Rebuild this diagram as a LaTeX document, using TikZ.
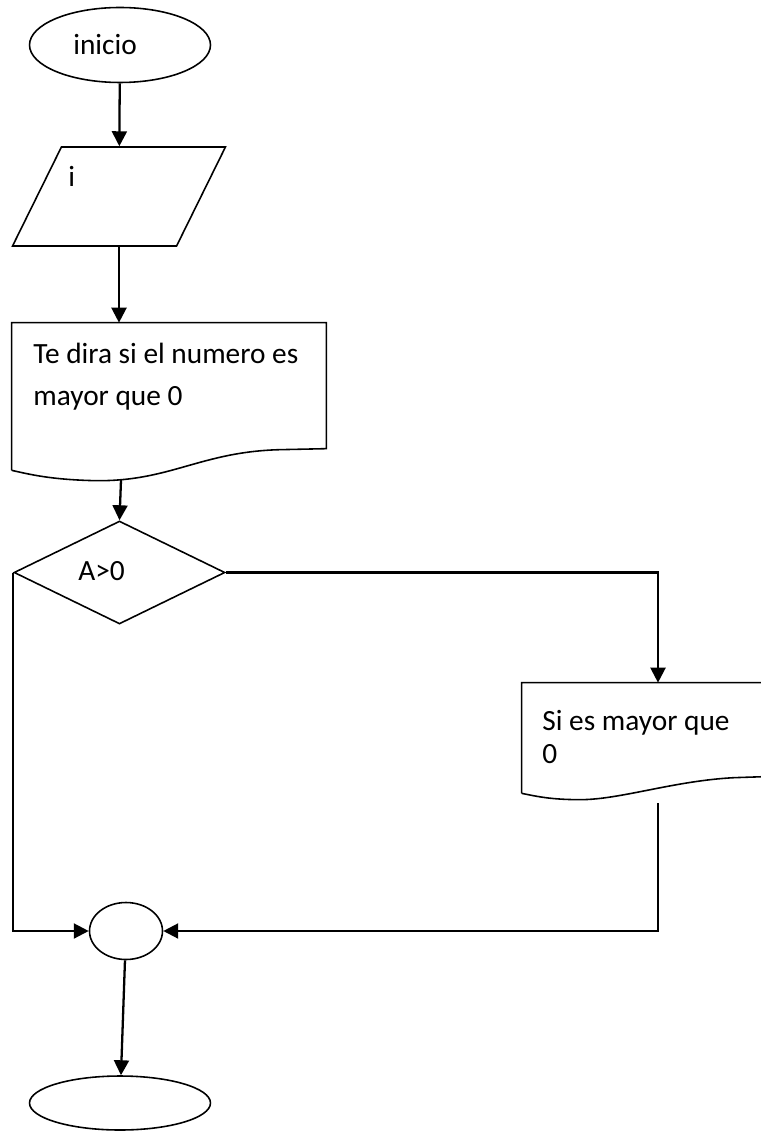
\documentclass[tikz,border=0pt]{standalone}
\usepackage{fontspec}
\setmainfont{Carlito}
\usetikzlibrary{shapes, arrows.meta, positioning}

\begin{document}
\begin{tikzpicture}[x=0.02cm, y=-0.02cm,
		forma/.style={draw, line width=0.9pt, inner sep=0pt},
		terminal/.style={forma, ellipse, minimum width=3.62cm, minimum height=1.5cm},
		entradadatos/.style={forma, inner sep=3pt, trapezium, trapezium left angle=67, trapezium right angle=113, trapezium stretches, minimum width=4.26cm, minimum height=1.98cm},
		decision/.style={forma, diamond, minimum width=4.22cm, minimum height=2.06cm},
		documento/.style={rectangle, inner sep=0pt},
		texto/.style={anchor=base west, inner sep=0pt, align=left, font=\fontsize{16.7}{23.8}\selectfont},
		flecha/.style={line width=1.3pt, -{Triangle[length=8.5pt, width=8.5pt]}}]
	\useasboundingbox (0,0) rectangle (760,1131);

	% figuras
	\node (inicio) [terminal] at (120,45) {};
	\node (entrada) [entradadatos] at (119,196.5) {};
	\node (doc1) [documento, minimum width=6.28cm, minimum height=2.94cm] at (169,396.5) {};
	\node (condicion) [decision] at (119.5,572.5) {};
	\node (doc2) [documento, minimum width=5.44cm, minimum height=2.2cm] at (658,738) {};
	\node (union) [forma, ellipse, minimum width=1.46cm, minimum height=1.14cm] at (126,931) {};
	\node (fin) [terminal, minimum height=1.08cm] at (120,1103) {};

	\draw[forma] (doc1.south west) -- (doc1.north west) -- (doc1.north east) -- ++(0,126) -- ++(-46,1)
		.. controls +(-80,2) and +(75,1) .. ++(-185,31)
		.. controls +(-45,-1) and +(18,4) .. (doc1.south west);
	\draw[forma] (doc2.south west) -- (doc2.north west) -- (doc2.north east) -- ++(0,93) -- ++(-60,2)
		.. controls +(-60,3) and +(40,0) .. ++(-154,22)
		.. controls +(-30,0) and +(15,3) .. (doc2.south west);

	% textos
	\node (tinicio) [texto] at (73,55) {inicio};
	\node (ti) [texto] at (68,187) {i};
	\node (tdoc1) [texto] at (33,405) {Te dira si el numero es\\mayor que 0};
	\node (tcond) [texto] at (78,580) {A>0};
	\node (tdoc2) [texto, font=\fontsize{16.7}{18.7}\selectfont] at (542,763) {Si es mayor que\\0};

	% conectores
	\coordinate (doc1bajo) at (121,480);
	\coordinate (doc2bajo) at (658,803);
	\path[flecha] (inicio) edge (entrada)
		(entrada.south) edge (entrada.south |- doc1.north)
		(doc1bajo) edge (condicion.north)
		(union) edge (fin);
	\draw[flecha] (condicion.east) -| (doc2.north);
	\draw[flecha] (doc2bajo) |- (union.east);
	\draw[flecha] (condicion.west) |- (union.west);
\end{tikzpicture}
\end{document}
